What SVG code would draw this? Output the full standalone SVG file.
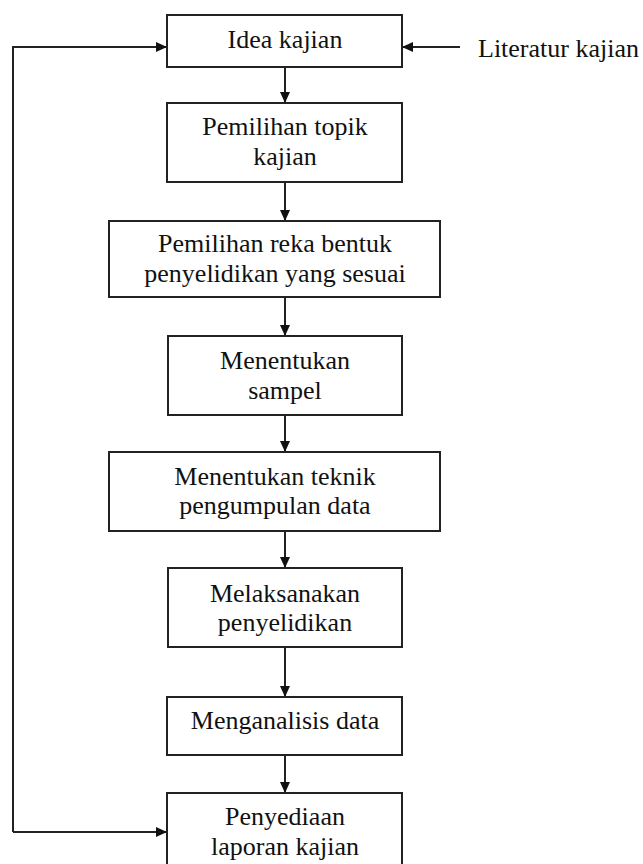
<svg xmlns="http://www.w3.org/2000/svg" width="643" height="864" viewBox="0 0 643 864">
<style>
.box{fill:#fff;stroke:#222;stroke-width:2}
.t{font-family:"Liberation Serif","Times New Roman",serif;font-size:26px;fill:#111;text-anchor:middle}
.tl{text-anchor:start}
.c{fill:none;stroke:#222;stroke-width:2}
</style>
<defs>
<marker id="ah" markerUnits="userSpaceOnUse" markerWidth="12" markerHeight="12" viewBox="0 0 12 12" refX="11" refY="6" orient="auto">
<path d="M0,1 L11,6 L0,11 Z" fill="#111"/>
</marker>
</defs>
<rect width="643" height="864" fill="#fff"/>
<g id="connectors">
<line class="c" x1="285" y1="67" x2="285" y2="103" marker-end="url(#ah)"/>
<line class="c" x1="285" y1="182" x2="285" y2="221" marker-end="url(#ah)"/>
<line class="c" x1="285" y1="297" x2="285" y2="336" marker-end="url(#ah)"/>
<line class="c" x1="285" y1="415" x2="285" y2="452" marker-end="url(#ah)"/>
<line class="c" x1="285" y1="531" x2="285" y2="568" marker-end="url(#ah)"/>
<line class="c" x1="285" y1="647" x2="285" y2="697" marker-end="url(#ah)"/>
<line class="c" x1="285" y1="755" x2="285" y2="793" marker-end="url(#ah)"/>
<path class="c" d="M13,832 V47 H167" marker-end="url(#ah)"/>
<line class="c" x1="13" y1="832" x2="167" y2="832" marker-end="url(#ah)"/>
<line class="c" x1="460" y1="47" x2="402" y2="47" marker-end="url(#ah)"/>
</g>
<g id="n1"><rect class="box" x="167" y="15" width="235" height="52"/><text class="t" x="285" y="48">Idea kajian</text></g>
<g id="lit"><text class="t tl" x="478" y="57">Literatur kajian</text></g>
<g id="n2"><rect class="box" x="167" y="103" width="235" height="79"/><text class="t" x="285" y="135">Pemilihan topik</text><text class="t" x="285" y="165">kajian</text></g>
<g id="n3"><rect class="box" x="109" y="221" width="331" height="76"/><text class="t" x="275" y="252">Pemilihan reka bentuk</text><text class="t" x="275" y="282">penyelidikan yang sesuai</text></g>
<g id="n4"><rect class="box" x="168" y="336" width="234" height="79"/><text class="t" x="285" y="369">Menentukan</text><text class="t" x="285" y="399">sampel</text></g>
<g id="n5"><rect class="box" x="109" y="452" width="331" height="79"/><text class="t" x="275" y="485">Menentukan teknik</text><text class="t" x="275" y="514">pengumpulan data</text></g>
<g id="n6"><rect class="box" x="168" y="568" width="234" height="79"/><text class="t" x="285" y="602">Melaksanakan</text><text class="t" x="285" y="631">penyelidikan</text></g>
<g id="n7"><rect class="box" x="167" y="697" width="235" height="58"/><text class="t" x="285" y="729">Menganalisis data</text></g>
<g id="n8"><rect class="box" x="167" y="793" width="235" height="82"/><text class="t" x="285" y="825">Penyediaan</text><text class="t" x="285" y="855">laporan kajian</text></g>
</svg>
